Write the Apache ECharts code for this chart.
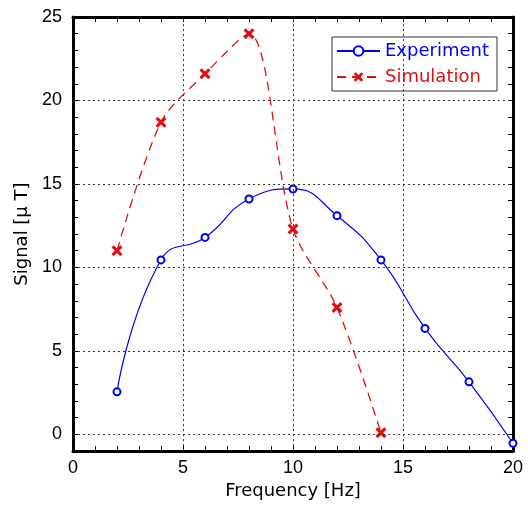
<!DOCTYPE html>
<html><head><meta charset="utf-8">
<script src="https://cdn.jsdelivr.net/npm/echarts@6/dist/echarts.min.js"></script>
<style>html,body{margin:0;padding:0;background:#fff}#c{width:528px;height:505px}</style>
</head><body><div id="c"></div>
<script>
const freqExp = [2,4,6,8,10,12,14,16,18,20];
const signalExp = [2.55,10.45,11.8,14.1,14.7,13.1,10.45,6.35,3.15,-0.53];
const freqSim = [2,4,6,8,10,12,14];
const signalSim = [11.0,18.7,21.6,24.0,12.3,7.6,0.1];
const xTicks = [0,5,10,15,20];
const yTicks = [0,5,10,15,20,25];

const crossPath = 'path://M0,2 L2,0 L5,3 L8,0 L10,2 L7,5 L10,8 L8,10 L5,7 L2,10 L0,8 L3,5 Z';
const font = 'Liberation Sans';
const nameFont = 'DejaVu Sans';
const gridStyle = {color:'#333',type:[2,3],width:1};
const axisLineStyle = {show:true,onZero:false,lineStyle:{color:'#000',width:3}};
const tickStyle = {show:true,inside:true,length:5,lineStyle:{color:'#000',width:1}};
const chart = echarts.init(document.getElementById('c'));
chart.setOption({
  animation:false,
  backgroundColor:'#fff',
  grid:{left:73,top:17,right:15,bottom:49,containLabel:false},
  legend:{
    right:31, top:37, orient:'vertical', itemWidth:43, itemHeight:12, itemGap:8,
    padding:[5,8,5,4], borderColor:'#333', borderWidth:1, backgroundColor:'#fff',
    textStyle:{fontFamily:nameFont,fontSize:18},
    data:[{name:'Experiment',textStyle:{color:'#0000ee'}},{name:'Simulation',textStyle:{color:'#e01010'}}]
  },
  xAxis:[
    {type:'value',min:0,max:20,interval:5,position:'bottom',
      name:'Frequency [Hz]',nameLocation:'middle',nameGap:28,
      nameTextStyle:{fontFamily:nameFont,fontSize:18,color:'#000'},
      axisLine:axisLineStyle,axisTick:tickStyle,
      minorTick:{show:true,splitNumber:5,length:5,lineStyle:{color:'#000',width:1}},
      axisLabel:{fontFamily:font,fontSize:18,color:'#000',margin:8,
        formatter:v=>xTicks.includes(v)?String(v):''},
      splitLine:{show:false}},
    {type:'value',min:0,max:20,interval:5,position:'top',
      axisLine:axisLineStyle,axisTick:tickStyle,
      minorTick:{show:true,splitNumber:5,length:5,lineStyle:{color:'#000',width:1}},
      axisLabel:{show:false},splitLine:{show:false}}
  ],
  yAxis:[
    {type:'value',min:-1,max:25,interval:1,position:'left',
      name:'Signal [μ T]',nameLocation:'middle',nameGap:42,
      nameTextStyle:{fontFamily:nameFont,fontSize:18,color:'#000'},
      axisLine:axisLineStyle,axisTick:tickStyle,
      axisLabel:{fontFamily:font,fontSize:18,color:'#000',margin:11,
        formatter:v=>yTicks.includes(v)?String(v):''},
      splitLine:{show:false}},
    {type:'value',min:-1,max:25,interval:1,position:'right',
      axisLine:axisLineStyle,axisTick:tickStyle,
      axisLabel:{show:false},splitLine:{show:false}}
  ],
  series:[
    {name:'grid',type:'line',data:[],silent:true,
      markLine:{silent:true,symbol:'none',label:{show:false},animation:false,
        lineStyle:gridStyle,
        data:xTicks.filter(v=>v>0&&v<20).map(v=>({xAxis:v}))
          .concat(yTicks.filter(v=>v<25).map(v=>({yAxis:v})))}},
    {name:'Experiment',type:'line',smooth:0.5,clip:false,
      data:freqExp.map((x,i)=>[x,signalExp[i]]),
      symbol:'circle',symbolSize:7,showAllSymbol:true,
      lineStyle:{color:'#0000ee',width:1.2},
      itemStyle:{color:'#fff',borderColor:'#0000ee',borderWidth:2},
      z:3},
    {name:'Simulation',type:'line',smooth:0.3,clip:false,
      data:freqSim.map((x,i)=>[x,signalSim[i]]),
      symbol:crossPath,symbolSize:11,showAllSymbol:true,
      lineStyle:{color:'#e01010',width:1.3,type:[9,6]},
      itemStyle:{color:'#e01010',borderWidth:0},
      z:4}
  ]
});
</script></body></html>
